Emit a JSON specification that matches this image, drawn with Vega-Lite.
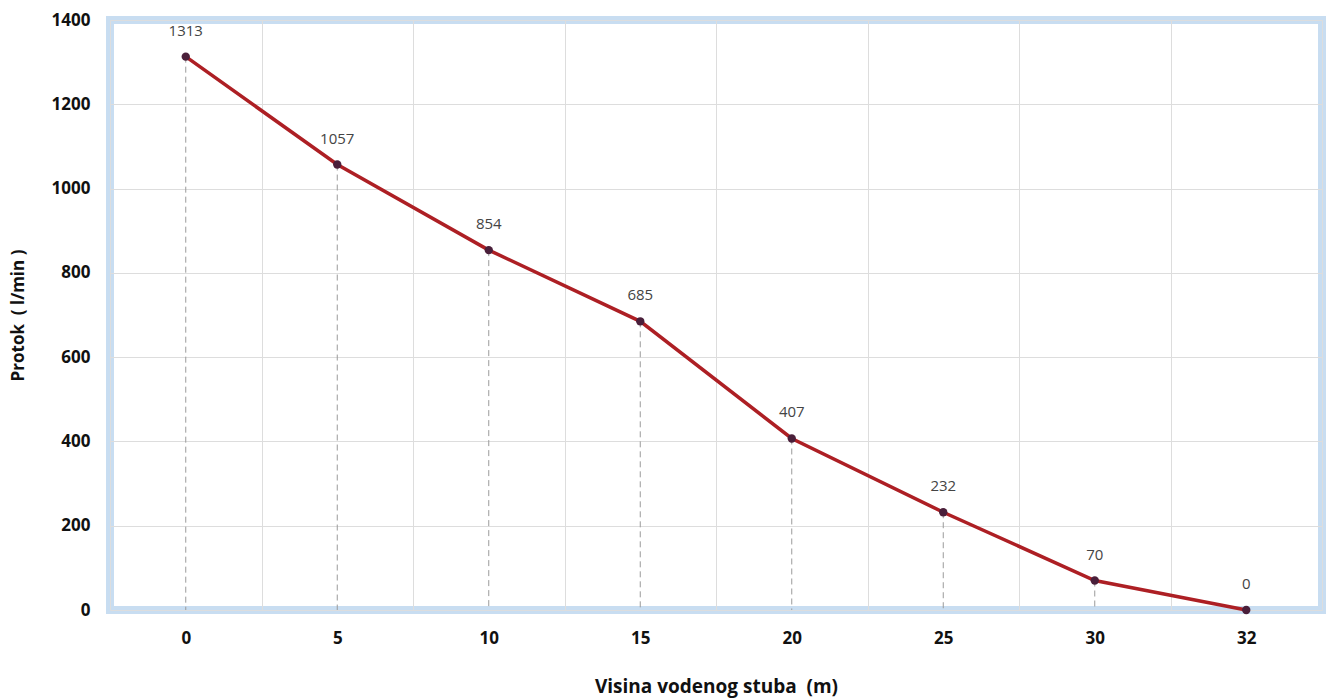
{
  "$schema": "https://vega.github.io/schema/vega-lite/v6.json",
  "autosize": {"type": "none"},
  "width": 1212,
  "height": 590,
  "padding": {"left": 110, "top": 20, "right": 6, "bottom": 88},
  "background": "white",
  "config": {
    "view": {"stroke": "#c8ddf1", "strokeWidth": 8},
    "font": "Open Sans"
  },
  "data": {
    "values": [
      {"visina": "0", "protok": 1313},
      {"visina": "5", "protok": 1057},
      {"visina": "10", "protok": 854},
      {"visina": "15", "protok": 685},
      {"visina": "20", "protok": 407},
      {"visina": "25", "protok": 232},
      {"visina": "30", "protok": 70},
      {"visina": "32", "protok": 0}
    ]
  },
  "encoding": {
    "x": {
      "field": "visina",
      "type": "ordinal",
      "sort": null,
      "bandPosition": 0.5,
      "scale": {"type": "band", "paddingInner": 0, "paddingOuter": 0},
      "axis": {
        "title": "Visina vodenog stuba\u00a0 (m)",
        "titleFontSize": 19,
        "titleFontWeight": "bold",
        "titleColor": "#111111",
        "titlePadding": 31,
        "labelAngle": 0,
        "labelFontSize": 17,
        "labelFontWeight": "bold",
        "labelColor": "#111111",
        "labelPadding": 20,
        "tickBand": "extent",
        "grid": true,
        "gridColor": "#dddddd",
        "gridWidth": 1,
        "domain": false,
        "ticks": false
      }
    },
    "y": {
      "field": "protok",
      "type": "quantitative",
      "scale": {"domain": [0, 1400], "nice": false},
      "axis": {
        "title": "Protok\u00a0 ( l/min )",
        "titleFontSize": 17,
        "titleFontWeight": "bold",
        "titleColor": "#111111",
        "titlePadding": 24,
        "values": [0, 200, 400, 600, 800, 1000, 1200, 1400],
        "format": "d",
        "labelFontSize": 17,
        "labelFontWeight": "bold",
        "labelColor": "#111111",
        "labelPadding": 20,
        "grid": true,
        "gridColor": "#dddddd",
        "domain": false,
        "ticks": false
      }
    }
  },
  "layer": [
    {
      "mark": {"type": "rule", "color": "#9a9a9a", "strokeDash": [6, 4], "strokeWidth": 1},
      "encoding": {"y2": {"datum": 0}}
    },
    {
      "mark": {"type": "line", "color": "#ad1f24", "strokeWidth": 3.5}
    },
    {
      "mark": {"type": "point", "filled": true, "color": "#4a1f3a", "size": 70, "opacity": 1}
    },
    {
      "mark": {"type": "text", "dy": -26, "fontSize": 15, "color": "#444444"},
      "encoding": {"text": {"field": "protok", "type": "quantitative"}}
    }
  ]
}
